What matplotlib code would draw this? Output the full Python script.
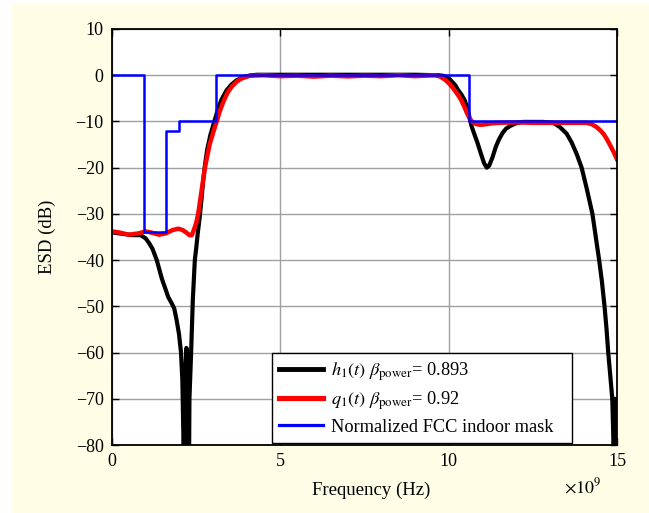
import matplotlib
matplotlib.use('Agg')
from matplotlib import pyplot as plt
from matplotlib.patches import Rectangle

plt.rcParams['font.family'] = ['Liberation Serif', 'DejaVu Serif']
plt.rcParams['mathtext.fontset'] = 'stix'

# frequency in GHz (axis is labelled in Hz with a x10^9 factor)
f_h1 = [0.0, 0.3, 0.6, 0.85, 1.0, 1.1, 1.2, 1.33, 1.48, 1.6, 1.67, 1.77, 1.85,
        1.92, 1.99, 2.05, 2.09, 2.12, 2.135, 2.15, 2.18, 2.21, 2.24, 2.26, 2.28,
        2.30, 2.35, 2.40, 2.46, 2.50, 2.55, 2.60, 2.65, 2.70, 2.76, 2.83, 2.92,
        3.04, 3.15, 3.25, 3.40, 3.55, 3.70, 3.90, 4.10, 4.30, 5.0, 6.0, 7.0,
        8.0, 9.0, 9.7, 9.85, 9.94, 10.02, 10.1, 10.2, 10.28, 10.38, 10.48,
        10.55, 10.62, 10.68, 10.75, 10.85, 10.95, 11.05, 11.13, 11.2, 11.3,
        11.4, 11.5, 11.6, 11.7, 11.82, 12.0, 12.2, 12.8, 13.11, 13.3, 13.5,
        13.65, 13.8, 13.95, 14.1, 14.27, 14.37, 14.47, 14.55, 14.63, 14.69,
        14.74, 14.8, 14.86, 14.89, 14.9, 14.92, 14.94, 14.96, 14.98, 15.0]
esd_h1 = [-34.0, -34.3, -34.6, -34.6, -35.3, -36.3, -37.5, -40.0, -44.0, -46.5,
          -48.0, -49.3, -50.5, -53.0, -56.0, -60.0, -66.0, -78.0, -95.0, -78.0,
          -64.0, -59.0, -62.0, -70.0, -95.0, -70.0, -60.0, -48.7, -40.0, -37.5,
          -34.0, -31.0, -27.5, -23.5, -19.5, -16.0, -13.0, -10.0, -7.3, -5.3,
          -3.3, -2.0, -1.1, -0.4, -0.05, 0.1, 0.1, 0.1, 0.1, 0.1, 0.1, 0.0,
          -0.15, -0.4, -0.8, -1.4, -2.2, -3.2, -4.2, -5.5, -7.0, -9.2, -11.0,
          -12.5, -14.5, -16.8, -19.0, -20.0, -19.6, -17.8, -15.5, -13.8, -12.5,
          -11.6, -11.0, -10.4, -10.1, -10.1, -10.3, -11.2, -12.6, -14.5, -17.0,
          -20.0, -24.5, -30.0, -35.0, -40.0, -44.5, -50.0, -55.0, -60.0, -65.0,
          -70.0, -78.0, -85.0, -76.0, -70.0, -80.0, -85.0, -76.0]

f_q1 = [0.0, 0.2, 0.5, 0.8, 1.0, 1.15, 1.4, 1.6, 1.8, 1.97, 2.1, 2.2, 2.3,
        2.37, 2.43, 2.5, 2.56, 2.65, 2.76, 2.9, 3.0, 3.11, 3.2, 3.31, 3.43,
        3.55, 3.7, 3.85, 4.1, 4.5, 5.0, 5.5, 6.0, 6.5, 7.0, 7.5, 8.0, 8.5,
        9.0, 9.6, 9.75, 9.9, 10.0, 10.1, 10.2, 10.3, 10.38, 10.47, 10.55,
        10.63, 10.7, 10.8, 10.9, 11.0, 11.1, 11.3, 11.5, 12.0, 12.5, 13.0,
        13.5, 14.1, 14.25, 14.39, 14.5, 14.6, 14.69, 14.8, 14.9, 15.0]
esd_q1 = [-33.8, -34.0, -34.5, -34.2, -33.8, -34.0, -34.5, -34.2, -33.5, -33.2,
          -33.5, -34.0, -34.6, -34.6, -33.5, -32.0, -30.0, -25.5, -20.0, -15.0,
          -12.5, -10.0, -7.8, -5.7, -3.8, -2.5, -1.4, -0.7, -0.1, 0.0, -0.2,
          -0.1, -0.3, -0.1, -0.25, -0.1, -0.2, 0.0, -0.2, 0.0, -0.3, -1.0,
          -1.7, -2.5, -3.5, -4.5, -5.5, -6.9, -8.3, -9.4, -10.1, -10.5, -10.7,
          -10.7, -10.6, -10.4, -10.3, -10.2, -10.3, -10.3, -10.3, -10.3, -10.6,
          -11.2, -11.9, -12.7, -13.7, -15.2, -16.6, -18.2]

# normalized FCC indoor mask (step edges)
f_mask = [0.0, 0.96, 1.61, 1.99, 3.1, 10.6, 15.0]
esd_mask = [0.0, -34.0, -12.0, -10.0, 0.0, -10.0, -10.0]

fig = plt.figure(figsize=(6.49, 5.13), dpi=100, facecolor='white')
fig.patches.append(Rectangle((12 / 649, 0), 1, 1 - 4 / 513, transform=fig.transFigure,
                             facecolor='#fffde6', edgecolor='none', zorder=-10))
ax = fig.add_axes([112 / 649, 1 - 445 / 513, 505 / 649, 416 / 513])
ax.set_facecolor('white')

ax.plot(f_h1, esd_h1, color='black', lw=3.0,
        label=r'$h_1(t)\ \beta_{\mathrm{power}}$= 0.893')
ax.plot(f_q1, esd_q1, color='red', lw=3.2,
        label=r'$q_1(t)\ \beta_{\mathrm{power}}$= 0.92')
ax.plot(f_mask, esd_mask, color='blue', lw=1.8, drawstyle='steps-post',
        label='Normalized FCC indoor mask')

ax.set_xlim(0, 15)
ax.set_ylim(-80, 10)
ax.set_xticks([0, 5, 10, 15])
ax.set_yticks(range(-80, 11, 10))
ax.grid(True, color='#a0a0a0', lw=1.0)
ax.set_axisbelow(True)
ax.tick_params(direction='in', top=True, right=True, length=5, width=1,
               labelsize=13, pad=6)
for sp in ax.spines.values():
    sp.set_linewidth(1.3)

ax.set_xlabel('Frequency (Hz)', fontsize=13.5, labelpad=8)
ax.xaxis.label.set_x(0.513)
ax.set_ylabel('ESD (dB)', fontsize=13.5, labelpad=14)
fig.text(564 / 649, 1 - 493 / 513, r'$\times10^9$', fontsize=13, va='baseline')

leg = ax.legend(loc='lower left', bbox_to_anchor=(0.317, 0.005, 0.594, 0.214),
                mode='expand', borderaxespad=0,
                fontsize=13.2, fancybox=False, framealpha=1, edgecolor='black',
                handlelength=2.4, handletextpad=0.4, borderpad=0.4,
                labelspacing=0.35)
leg.get_frame().set_linewidth(1.0)
for line in leg.get_lines():
    line.set_linewidth(line.get_linewidth() + 0.5)

fig.savefig('out.png', dpi=100, facecolor=fig.get_facecolor())
